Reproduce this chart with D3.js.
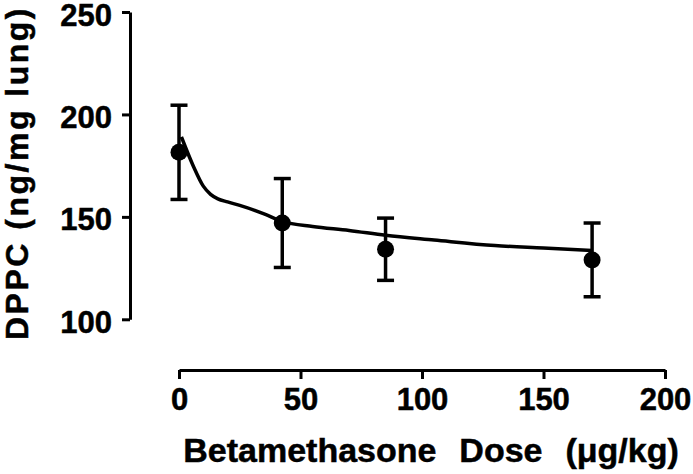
<!DOCTYPE html>
<html>
<head>
<meta charset="utf-8">
<script src="https://cdn.jsdelivr.net/npm/d3@7"></script>
<style>
  html, body { margin: 0; padding: 0; background: #fff; }
  svg { display: block; }
  text { font-family: "Liberation Sans", Arial, Helvetica, sans-serif; font-weight: bold; fill: #000; stroke: #000; stroke-width: 0.5px; }
</style>
</head>
<body>
<svg id="chart" width="693" height="474"></svg>
<script>
// ---- data ----
const doses = [0, 42.5, 85, 170];
const dppcMean = [181.5, 147, 134.2, 129];
const dppcErr = [23, 21.7, 15.2, 18];
const fitDose = [1, 6, 10, 13, 16, 20, 25, 35, 42.5, 55, 70, 85, 105, 130, 150, 170];
const fitValue = [189, 174.5, 165, 161, 158.8, 157.3, 155.6, 151.5, 147.8, 145.3, 143.4, 141, 138.7, 136, 134.8, 133.6];
const xTicks = [0, 50, 100, 150, 200];
const yTicks = [100, 150, 200, 250];
const xTitle = "Betamethasone  Dose  (\u03BCg/kg)";
const yTitle = "DPPC (ng/mg lung)";

const svg = d3.select("#chart");
svg.append("rect").attr("width", 693).attr("height", 474).attr("fill", "#fff");

const x = d3.scaleLinear().domain([0, 200]).range([179, 665]);
const y = d3.scaleLinear().domain([100, 250]).range([319.3, 12]);

// y axis (offset, Prism style)
const yAxis = svg.append("g")
  .attr("transform", "translate(130,0)")
  .call(d3.axisLeft(y).tickValues(yTicks).tickSize(8).tickSizeOuter(0).tickPadding(10).tickFormat(d3.format("d")));
yAxis.select(".domain").attr("stroke", "#000").attr("stroke-width", 3);
yAxis.selectAll(".tick line").attr("stroke", "#000").attr("stroke-width", 3);
yAxis.selectAll(".tick text").attr("font-size", 31).attr("dy", "0.42em")
  .style("font-family", "'Liberation Sans', Arial, sans-serif").style("font-weight", "bold");

// x axis
const xAxis = svg.append("g")
  .attr("transform", "translate(0,370)")
  .call(d3.axisBottom(x).tickValues(xTicks).tickSize(9).tickSizeOuter(0).tickPadding(9).tickFormat(d3.format("d")));
xAxis.select(".domain").attr("stroke", "#000").attr("stroke-width", 3);
xAxis.selectAll(".tick line").attr("stroke", "#000").attr("stroke-width", 3);
xAxis.selectAll(".tick text").attr("font-size", 31)
  .style("font-family", "'Liberation Sans', Arial, sans-serif").style("font-weight", "bold");

// fitted curve
const fit = fitDose.map((d, i) => [d, fitValue[i]]);
svg.append("path")
  .datum(fit)
  .attr("fill", "none")
  .attr("stroke", "#000")
  .attr("stroke-width", 3.5)
  .attr("stroke-linejoin", "round")
  .attr("d", d3.line().x(d => x(d[0])).y(d => y(d[1])).curve(d3.curveMonotoneX));

// error bars
const pts = doses.map((d, i) => ({ d, m: dppcMean[i], e: dppcErr[i] }));
const eb = svg.append("g").attr("stroke", "#000").attr("stroke-width", 3.5);
eb.selectAll(".v").data(pts).join("line")
  .attr("x1", p => x(p.d)).attr("x2", p => x(p.d))
  .attr("y1", p => y(p.m + p.e)).attr("y2", p => y(p.m - p.e));
eb.selectAll(".t").data(pts).join("line")
  .attr("x1", p => x(p.d) - 8.5).attr("x2", p => x(p.d) + 8.5)
  .attr("y1", p => y(p.m + p.e)).attr("y2", p => y(p.m + p.e));
eb.selectAll(".b").data(pts).join("line")
  .attr("x1", p => x(p.d) - 8.5).attr("x2", p => x(p.d) + 8.5)
  .attr("y1", p => y(p.m - p.e)).attr("y2", p => y(p.m - p.e));

// markers
svg.append("g").selectAll("circle").data(pts).join("circle")
  .attr("cx", p => x(p.d)).attr("cy", p => y(p.m)).attr("r", 8.5).attr("fill", "#000");

// titles
svg.append("text")
  .attr("x", 431).attr("y", 462)
  .attr("text-anchor", "middle")
  .attr("font-size", 34)
  .attr("word-spacing", 2)
  .style("white-space", "pre")
  .text(xTitle);

svg.append("text")
  .attr("transform", "translate(28,173) rotate(-90)")
  .attr("text-anchor", "middle")
  .attr("font-size", 32)
  .attr("letter-spacing", 2.5)
  .style("white-space", "pre")
  .text(yTitle);
</script>
</body>
</html>
